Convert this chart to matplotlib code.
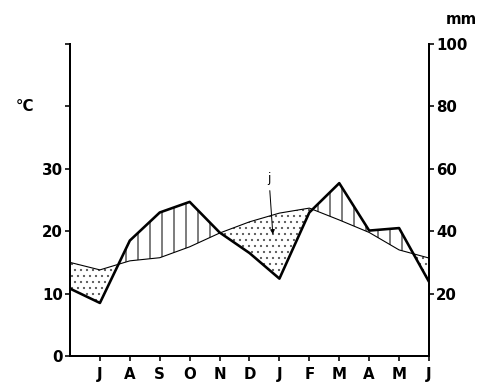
import numpy as np
import matplotlib
matplotlib.use("Agg")
import matplotlib.pyplot as plt

# month labels (July .. June)
months = ['J', 'A', 'S', 'O', 'N', 'D', 'J', 'F', 'M', 'A', 'M', 'J']
month_pos = list(range(12))

# data points, first one sits on the left axis (previous June)
x_data = list(range(-1, 12))
temp_c = [10.8, 8.5, 18.5, 23.0, 24.7, 19.8, 16.5, 12.4, 23.0, 27.7, 20.1, 20.5, 11.9]
precip_mm = [30.0, 27.6, 30.5, 31.5, 35.0, 39.4, 43.0, 45.8, 47.4, 43.6, 39.6, 34.0, 31.4]

left_ticks = [0, 10, 20, 30, 40, 50]
left_labels = ['0', '10', '20', '30', '', '']
right_ticks = [20, 40, 60, 80, 100]

plt.rcParams['font.family'] = 'DejaVu Sans'
plt.rcParams['hatch.linewidth'] = 1.0

# dpi 72 so the hatch spacing comes out like the printed figure
fig = plt.figure(figsize=(482 / 72, 392 / 72), dpi=72)
ax = fig.add_axes([70 / 482, 36 / 392, 359 / 482, 312 / 392])

x = np.array(x_data, dtype=float)
t = np.array(temp_c)
p = np.array(precip_mm) / 2.0   # 20 mm = 10 degC

# arid (temp above rain) vertical lines, humid dotted
ax.fill_between(x, t, p, where=t >= p, interpolate=True,
                facecolor='none', edgecolor='black', hatch='|', linewidth=0)
ax.fill_between(x, t, p, where=t <= p, interpolate=True,
                facecolor='none', edgecolor='0.35', hatch='..', linewidth=0)

ax.plot(x, p, color='black', lw=1.1)
ax.plot(x, t, color='black', lw=2.6)

ax.set_xlim(-1, 11)
ax.set_ylim(0, 50)

for s in ['left', 'bottom', 'right']:
    ax.spines[s].set_linewidth(2)
ax.spines['top'].set_visible(False)

ax.set_yticks(left_ticks)
ax.set_yticklabels(left_labels)
ax.set_xticks(month_pos)
ax.set_xticklabels(months)
ax.tick_params(axis='both', direction='out', length=5, width=1.6,
               labelsize=15)
for lab in ax.get_xticklabels() + ax.get_yticklabels():
    lab.set_fontweight('bold')
ax.tick_params(axis='x', pad=6)
ax.tick_params(axis='y', pad=2)

sec = ax.secondary_yaxis('right', functions=(lambda v: v * 2, lambda v: v / 2))
sec.set_yticks(right_ticks)
sec.spines['right'].set_linewidth(2)
sec.tick_params(direction='out', length=5, width=1.6, labelsize=15, pad=2)
for lab in sec.get_yticklabels():
    lab.set_fontweight('bold')

ax.text(-0.125, 0.8, '°C', transform=ax.transAxes, fontsize=15,
        fontweight='bold', ha='center', va='center')
ax.text(1.09, 1.08, 'mm', transform=ax.transAxes, fontsize=15,
        fontweight='bold', ha='center', va='center')

ax.annotate('j', xy=(5.78, 19.5), xytext=(5.65, 28.5), fontsize=12,
            ha='center', va='center',
            arrowprops=dict(arrowstyle='-|>', color='black', lw=1,
                            mutation_scale=9, shrinkA=4, shrinkB=0))

fig.savefig('out.png', dpi=72)
